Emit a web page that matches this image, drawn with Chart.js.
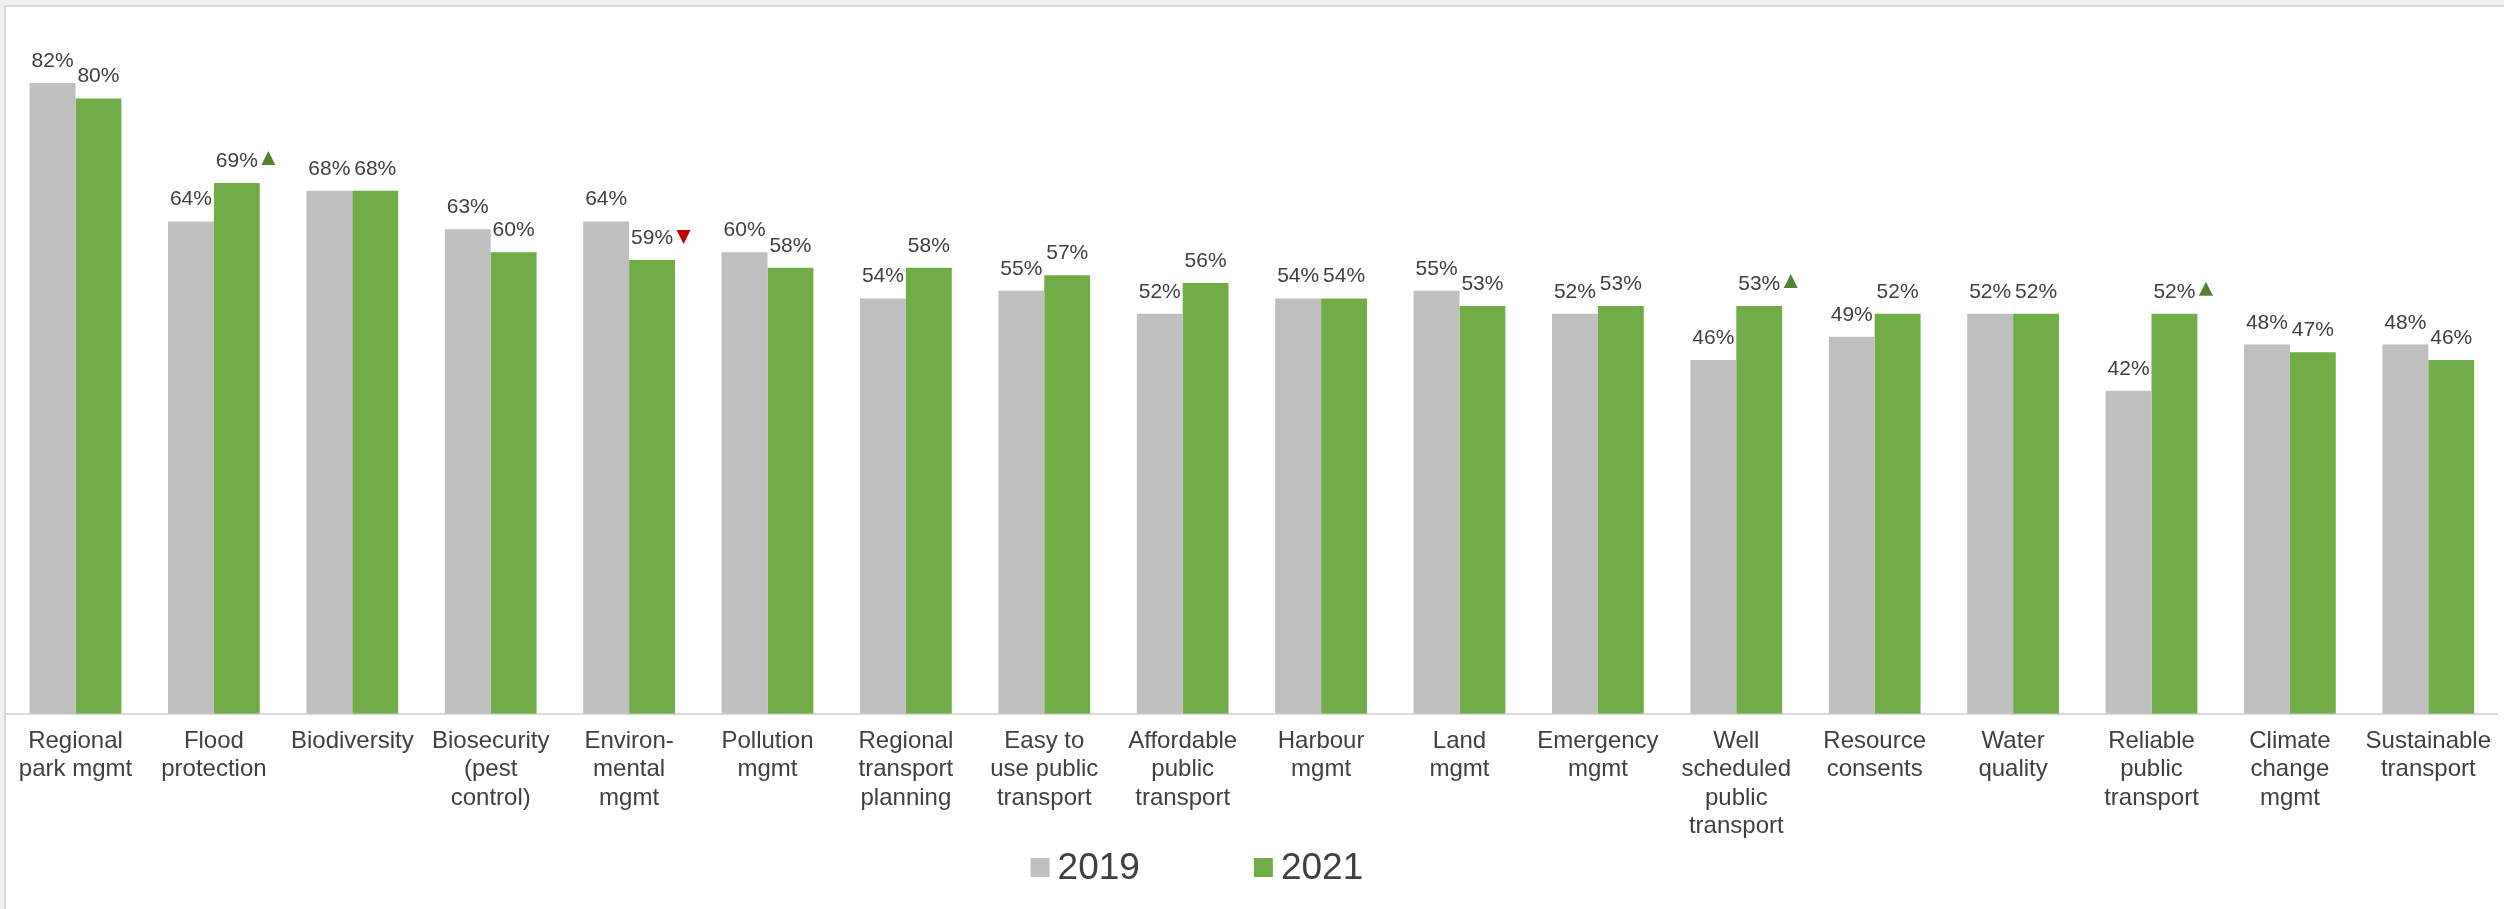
<!DOCTYPE html>
<html>
<head>
<meta charset="utf-8">
<script src="https://cdn.jsdelivr.net/npm/chart.js@4/dist/chart.umd.min.js"></script>
<style>
    html, body { margin: 0; padding: 0; background: #efefef; overflow: hidden; }
    #frame {
        position: absolute; left: 4px; top: 5px;
        width: 2500px; height: 904px;
        background: #ffffff;
        border-left: 2px solid #d9d9d9;
        border-top: 2px solid #d9d9d9;
    }
    canvas { display: block; }
</style>
</head>
<body>
<div id="frame"><canvas id="myChart" width="2498" height="902"></canvas></div>
<script>
// Categories (multi-line tick labels)
const categories = [
    ['Regional', 'park mgmt'],
    ['Flood', 'protection'],
    ['Biodiversity'],
    ['Biosecurity', '(pest', 'control)'],
    ['Environ-', 'mental', 'mgmt'],
    ['Pollution', 'mgmt'],
    ['Regional', 'transport', 'planning'],
    ['Easy to', 'use public', 'transport'],
    ['Affordable', 'public', 'transport'],
    ['Harbour', 'mgmt'],
    ['Land', 'mgmt'],
    ['Emergency', 'mgmt'],
    ['Well', 'scheduled', 'public', 'transport'],
    ['Resource', 'consents'],
    ['Water', 'quality'],
    ['Reliable', 'public', 'transport'],
    ['Climate', 'change', 'mgmt'],
    ['Sustainable', 'transport']
];

const values2019 = [82, 64, 68, 63, 64, 60, 54, 55, 52, 54, 55, 52, 46, 49, 52, 42, 48, 48];
const values2021 = [80, 69, 68, 60, 59, 58, 58, 57, 56, 54, 53, 53, 53, 52, 52, 52, 47, 46];

// significant change markers on the 2021 bars
const change2021 = [null, 'up', null, null, 'down', null, null, null, null, null, null, null, 'up', null, null, 'up', null, null];

const seriesLabels = ['2019', '2021'];
const seriesColors = ['#bfbfbf', '#70ad47'];

const textColor = '#404040';
const fontFamily = '"Liberation Sans", Arial, sans-serif';

// percentage labels above each bar, plus arrows for significant changes
const barLabels = {
    id: 'barLabels',
    afterDatasetsDraw(chart) {
        const ctx = chart.ctx;
        ctx.save();
        ctx.font = `21px ${fontFamily}`;
        ctx.textAlign = 'center';
        ctx.textBaseline = 'alphabetic';
        chart.data.datasets.forEach((ds, di) => {
            const meta = chart.getDatasetMeta(di);
            meta.data.forEach((bar, i) => {
                const text = ds.data[i] + '%';
                const baseY = bar.y - 16;
                ctx.fillStyle = textColor;
                ctx.fillText(text, bar.x, baseY);
                const mark = di === 1 ? change2021[i] : null;
                if (mark) {
                    const x0 = bar.x + ctx.measureText(text).width / 2 + 3.5;
                    ctx.beginPath();
                    if (mark === 'up') {
                        ctx.fillStyle = '#548235';
                        ctx.moveTo(x0, baseY - 2);
                        ctx.lineTo(x0 + 14, baseY - 2);
                        ctx.lineTo(x0 + 7, baseY - 16);
                    } else {
                        ctx.fillStyle = '#c00000';
                        ctx.moveTo(x0, baseY - 14);
                        ctx.lineTo(x0 + 14, baseY - 14);
                        ctx.lineTo(x0 + 7, baseY);
                    }
                    ctx.closePath();
                    ctx.fill();
                }
            });
        });
        ctx.restore();
    }
};

// legend under the axis labels
const bottomLegend = {
    id: 'bottomLegend',
    afterDraw(chart) {
        const ctx = chart.ctx;
        const box = 19, textGap = 8, itemGap = 114;
        ctx.save();
        ctx.font = `37px ${fontFamily}`;
        ctx.textBaseline = 'middle';
        ctx.textAlign = 'left';
        const items = chart.data.datasets.map(ds => ({
            label: ds.label,
            color: ds.backgroundColor,
            w: box + textGap + ctx.measureText(ds.label).width
        }));
        const total = items.reduce((s, it) => s + it.w, 0) + itemGap * (items.length - 1);
        const centerX = (chart.chartArea.left + chart.chartArea.right) / 2 - 55;
        const cy = 860.5;
        let x = centerX - total / 2;
        items.forEach(it => {
            ctx.fillStyle = it.color;
            ctx.fillRect(x, cy - box / 2, box, box);
            ctx.fillStyle = textColor;
            ctx.fillText(it.label, x + box + textGap, cy + 1);
            x += it.w + itemGap;
        });
        ctx.restore();
    }
};

const ctx = document.getElementById('myChart').getContext('2d');
new Chart(ctx, {
    type: 'bar',
    data: {
        labels: categories,
        datasets: seriesLabels.map((label, i) => ({
            label,
            data: i === 0 ? values2019 : values2021,
            backgroundColor: seriesColors[i],
            borderWidth: 0,
            categoryPercentage: 0.663,
            barPercentage: 1.0
        }))
    },
    options: {
        responsive: false,
        animation: false,
        devicePixelRatio: 1,
        layout: { padding: { top: 14.5, bottom: 55, left: 0, right: 0 } },
        plugins: {
            legend: { display: false },
            tooltip: { enabled: false }
        },
        scales: {
            x: {
                grid: { display: false, drawTicks: false },
                border: { display: true, color: '#d9d9d9', width: 2 },
                ticks: {
                    color: textColor,
                    font: { family: fontFamily, size: 24, lineHeight: 1.19 },
                    padding: 13,
                    maxRotation: 0,
                    autoSkip: false
                }
            },
            y: {
                display: false,
                min: 0,
                max: 90
            }
        }
    },
    plugins: [barLabels, bottomLegend]
});
</script>
</body>
</html>
